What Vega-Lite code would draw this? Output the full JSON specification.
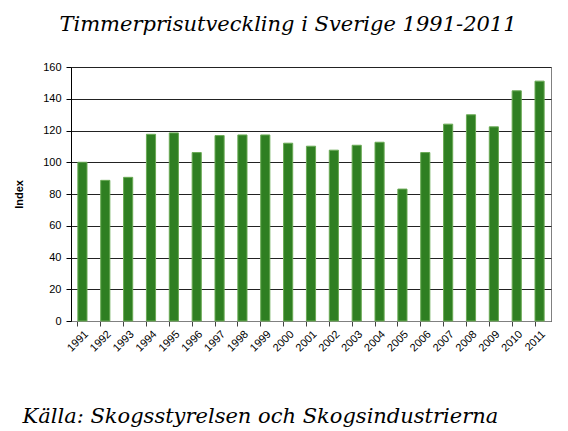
{
  "$schema": "https://vega.github.io/schema/vega-lite/v6.json",
  "autosize": {"type": "none"},
  "padding": {"left": 71, "top": 67, "right": 17, "bottom": 110},
  "width": 480,
  "height": 254,
  "background": "white",
  "title": {
    "text": "Timmerprisutveckling i Sverige 1991-2011",
    "font": "DejaVu Serif",
    "fontStyle": "italic",
    "fontWeight": "normal",
    "fontSize": 21,
    "color": "black",
    "anchor": "middle",
    "frame": "group",
    "dx": -23,
    "offset": 26
  },
  "data": {
    "values": [
      {"year": "1991", "index": 100},
      {"year": "1992", "index": 88.6},
      {"year": "1993", "index": 90.5},
      {"year": "1994", "index": 117.6},
      {"year": "1995", "index": 118.5},
      {"year": "1996", "index": 106.1},
      {"year": "1997", "index": 116.8},
      {"year": "1998", "index": 117.2},
      {"year": "1999", "index": 117.2},
      {"year": "2000", "index": 112.0},
      {"year": "2001", "index": 110.1},
      {"year": "2002", "index": 107.6},
      {"year": "2003", "index": 110.7},
      {"year": "2004", "index": 112.6},
      {"year": "2005", "index": 83.1},
      {"year": "2006", "index": 106.1},
      {"year": "2007", "index": 124.0},
      {"year": "2008", "index": 129.9},
      {"year": "2009", "index": 122.3},
      {"year": "2010", "index": 145.0},
      {"year": "2011", "index": 151.1}
    ]
  },
  "mark": {"type": "bar", "color": "#2F7F22", "stroke": "#6AAA55", "strokeWidth": 1},
  "encoding": {
    "x": {
      "field": "year",
      "type": "ordinal",
      "scale": {"paddingInner": 0.6, "paddingOuter": 0.3},
      "axis": {
        "title": "Källa: Skogsstyrelsen och Skogsindustrierna",
        "titleFont": "DejaVu Serif",
        "titleFontStyle": "italic",
        "titleFontWeight": "normal",
        "titleFontSize": 21,
        "titleColor": "black",
        "titleAlign": "left",
        "titleAnchor": "start",
        "titleX": -49,
        "titleY": 101,
        "titleBaseline": "alphabetic",
        "labelAngle": -45,
        "labelFont": "Arial",
        "labelFontSize": 11,
        "labelColor": "black",
        "labelPadding": 2,
        "bandPosition": 0,
        "tickColor": "#444",
        "tickSize": 5,
        "domainColor": "#808080",
        "grid": false
      }
    },
    "y": {
      "field": "index",
      "type": "quantitative",
      "scale": {"domain": [0, 160], "nice": false},
      "axis": {
        "title": "Index",
        "titleFont": "Arial",
        "titleFontWeight": "bold",
        "titleFontSize": 11,
        "titleColor": "black",
        "titlePadding": 18,
        "values": [0, 20, 40, 60, 80, 100, 120, 140, 160],
        "labelFont": "Arial",
        "labelFontSize": 11,
        "labelColor": "black",
        "labelPadding": 5,
        "tickColor": "black",
        "tickSize": 5,
        "domainColor": "black",
        "grid": true,
        "gridColor": "#222",
        "gridWidth": 1
      }
    }
  },
  "config": {
    "view": {"stroke": "#808080", "strokeWidth": 1}
  }
}
